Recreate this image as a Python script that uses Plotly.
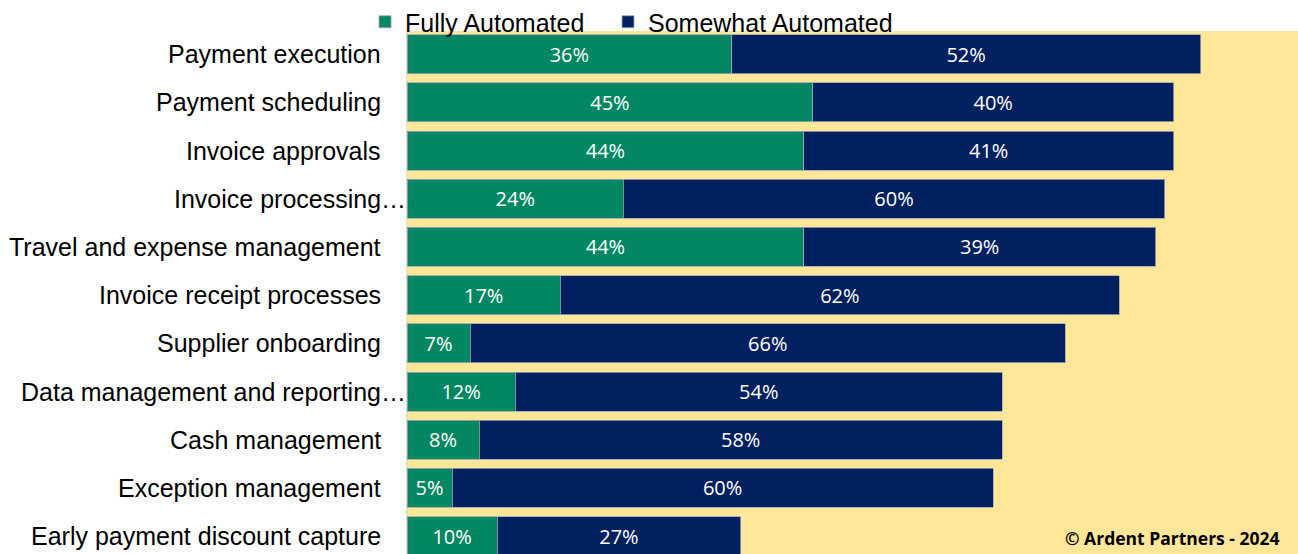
import plotly.graph_objects as go

# Share of respondents, by process
categories = [
    "Payment execution",
    "Payment scheduling",
    "Invoice approvals",
    "Invoice processing…",
    "Travel and expense management",
    "Invoice receipt processes",
    "Supplier onboarding",
    "Data management and reporting…",
    "Cash management",
    "Exception management",
    "Early payment discount capture",
]
fully_automated = [36, 45, 44, 24, 44, 17, 7, 12, 8, 5, 10]
somewhat_automated = [52, 40, 41, 60, 39, 62, 66, 54, 58, 60, 27]

GREEN = "#038762"
NAVY = "#002060"
GOLD = "#FFE699"
LABEL_FONT = {"family": "Liberation Sans, Arial", "size": 25, "color": "black"}

fig = go.Figure()

for name, values, colour, legend in [
    ("Fully Automated", fully_automated, GREEN, "legend2"),
    ("Somewhat Automated", somewhat_automated, NAVY, "legend3"),
]:
    fig.add_trace(go.Bar(
        y=categories,
        x=values,
        name=name,
        legend=legend,
        showlegend=True,
        orientation="h",
        marker={"color": colour, "line": {"color": "#9EA6B8", "width": 0.8}},
        text=[f"{v}%" for v in values],
        textposition="inside",
        insidetextanchor="middle",
        textfont={"family": "Open Sans", "size": 20, "color": "white"},
        cliponaxis=False,
    ))

# one legend per series so each entry can be placed like the original
legend_style = {
    "visible": True,
    "orientation": "h",
    "xanchor": "left",
    "xref": "paper",
    "y": 1 - 22 / 554,
    "yanchor": "middle",
    "yref": "container",
    "font": LABEL_FONT,
    "bgcolor": "rgba(0,0,0,0)",
}

fig.update_layout(
    width=1298,
    height=554,
    barmode="stack",
    bargap=0.19,
    plot_bgcolor=GOLD,
    paper_bgcolor="white",
    margin={"l": 407, "r": 0, "t": 31, "b": 0, "autoexpand": False},
    uniformtext={"minsize": 20, "mode": "show"},
    font={"family": "Liberation Sans, Arial", "color": "black"},
    showlegend=True,
    legend2={**legend_style, "x": -0.0471},
    legend3={**legend_style, "x": 0.2256},
)

fig.update_xaxes(
    range=[0, 98.8],
    showgrid=False,
    showticklabels=False,
    zeroline=False,
    fixedrange=True,
)
fig.update_yaxes(
    type="category",
    categoryorder="array",
    categoryarray=categories,
    range=[10.37, -0.48],
    showgrid=False,
    showline=True,
    linecolor="#D9D9D9",
    linewidth=1,
    ticks="",
    showticklabels=False,
)

# Category labels: truncated ones run right up to the axis, as in the source
for cat in categories:
    fig.add_annotation(
        text=cat,
        xref="paper", yref="y",
        x=0, y=cat,
        xanchor="right", yanchor="middle",
        xshift=1 if cat.endswith("…") else -24,
        showarrow=False,
        font=LABEL_FONT,
    )

fig.add_annotation(
    text="© Ardent Partners - 2024",
    xref="paper", yref="paper",
    x=0.982, y=16 / 523,
    xanchor="right", yanchor="middle",
    showarrow=False,
    font={"family": "Open Sans", "size": 17.5, "color": "black", "weight": "bold"},
)

# drop the browser's default body margin so the figure sits at the page corner
fig.write_html(
    "out.html",
    config={"displayModeBar": False},
    post_script="document.body.style.margin = '0';",
)
